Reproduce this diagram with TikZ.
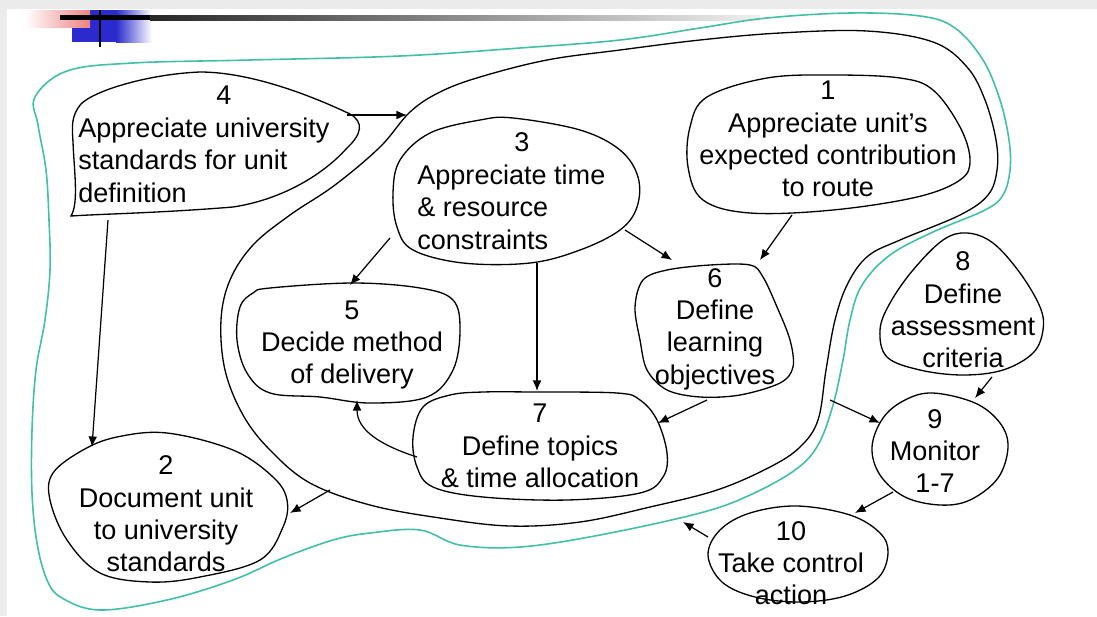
\documentclass[tikz,border=0pt]{standalone}
\usepackage{fontspec}
\setmainfont{Liberation Sans}
\usetikzlibrary{arrows.meta}
\definecolor{tealc}{RGB}{64,192,165}
\definecolor{logoblue}{RGB}{42,42,205}
\definecolor{logopink}{RGB}{238,130,130}
\begin{document}
\begin{tikzpicture}[x=0.02cm,y=-0.02cm,
  blob/.style={draw=black,line width=0.75pt},
  rim/.style={draw=tealc,line width=0.9pt},
  arr/.style={draw=black,line width=0.7pt,-{Latex[length=6pt,width=5pt]}},
  lbl/.style={font=\fontsize{15.4}{18.4}\selectfont,inner sep=0pt,align=center},
  lbll/.style={lbl,align=left,anchor=west}]
\useasboundingbox (0,0) rectangle (1097,616);
\fill[white] (0,0) rectangle (1097,616);

% slide frame and title decoration
\fill[black!8] (0,0) rectangle (1097,9);
\fill[black!8] (0,0) rectangle (7,616);
\fill[logoblue] (72,10) rectangle (116,42);
\shade[left color=logoblue,right color=white] (116,10) rectangle (152,42);
\shade[left color=white,right color=logopink] (25,10) rectangle (90,27);
\fill[black] (60,15) rectangle (150,20);
\shade[left color=black!85,right color=black!6] (150,15) rectangle (760,20);
\draw[line width=1.7pt] (100,10) -- (100,47);

% outer (teal) boundary
\draw[rim] plot[smooth cycle,tension=0.6] coordinates {
 (67,71) (133,63) (250,60) (400,56) (520,48) (620,40) (700,28) (767,18)
 (850,13) (920,16) (955,28) (983,60) (1000,100) (1009,140) (1010,170)
 (1003,195) (985,210) (933,232) (890,255) (862,285) (850,320) (843,360)
 (833,405) (818,445) (795,470) (750,495) (700,513) (600,535) (520,547)
 (460,545) (420,530) (370,533) (333,540) (283,558) (233,580) (167,600)
 (100,610) (62,598) (47,580) (37,543) (32,493) (32,430) (36,370) (45,320)
 (50,270) (49,220) (46,170) (38,125) (35,97)};

% inner (black) boundary
\draw[blob] plot[smooth cycle,tension=0.6] coordinates {
 (480,77) (547,60) (620,50) (700,40) (780,33) (867,31) (933,42) (967,67)
 (985,100) (996,140) (997,170) (988,195) (960,215) (900,240) (868,256)
 (848,283) (835,320) (826,370) (818,420) (800,447) (770,467) (717,490)
 (650,507) (580,522) (510,526) (440,518) (370,505) (310,483) (270,450)
 (243,415) (225,370) (221,320) (230,280) (253,245) (290,215) (335,185)
 (380,147) (410,112) (440,92)};

% blob 1
\draw[blob] plot[smooth cycle,tension=0.6] coordinates {
 (767,78) (833,75) (900,78) (933,90) (960,127) (970,160) (960,180) (917,197)
 (833,210) (750,213) (703,200) (688,167) (690,127) (707,97)};
\node[lbl] (t1) at (828,139) {1\\Appreciate unit’s\\expected contribution\\to route};

% blob 4 (sharp corner at the lower left)
\draw[blob] (71,216) .. controls (100,214) and (160,213) .. (233,207)
  .. controls (280,200) and (322,176) .. (347,148)
  .. controls (362,134) and (364,122) .. (350,114)
  .. controls (310,95) and (250,72) .. (200,72)
  .. controls (150,74) and (95,90) .. (81,104)
  .. controls (71,116) and (72,126) .. (73,142)
  .. controls (74,170) and (79,203) .. cycle;
\node[lbl] (n4) at (224,95) {4};
\node[lbll] (t4) at (78,160) {Appreciate university\\standards for unit\\definition};

% blob 3
\draw[blob] plot[smooth cycle,tension=0.6] coordinates {
 (513,118) (580,130) (620,150) (638,177) (637,207) (620,230) (580,250)
 (530,263) (463,263) (413,250) (397,227) (393,193) (400,160) (430,133) (480,120)};
\node[lbl] (n3) at (522,142) {3};
\node[lbll] (t3) at (417,207) {Appreciate time\\\& resource\\constraints};

% blob 5
\draw[blob] plot[smooth cycle,tension=0.6] coordinates {
 (270,288) (353,283) (420,288) (453,300) (460,330) (453,370) (427,397)
 (370,403) (320,397) (270,393) (247,373) (237,340) (240,307) (253,293)};
\node[lbl] (t5) at (352,345) {5\\Decide method\\of delivery};

% blob 6
\draw[blob] plot[smooth cycle,tension=0.55] coordinates {
 (710,265) (750,265) (763,277) (777,307) (790,340) (793,367) (780,383)
 (740,395) (700,397) (667,390) (647,370) (640,340) (635,307) (643,280) (667,270)};
\node[lbl] (t6) at (715,329) {6\\Define\\learning\\objectives};

% blob 7
\draw[blob] plot[smooth cycle,tension=0.6] coordinates {
 (533,392) (617,393) (640,400) (657,420) (667,453) (663,477) (640,493)
 (567,500) (483,497) (433,487) (417,467) (413,437) (423,407) (450,395) (483,392)};
\node[lbl] (t7) at (540,446) {7\\Define topics\\\& time allocation};

% blob 8
\draw[blob] plot[smooth cycle,tension=0.6] coordinates {
 (967,233) (993,243) (1020,273) (1040,307) (1043,330) (1033,353) (1003,370)
 (963,375) (920,370) (887,357) (880,330) (890,303) (913,270) (943,240)};
\node[lbl] (t8) at (963,310) {8\\Define\\assessment\\criteria};

% blob 9
\draw[blob] plot[smooth cycle,tension=0.6] coordinates {
 (933,393) (975,403) (1000,423) (1008,447) (998,478) (970,500) (940,505)
 (905,497) (880,475) (872,447) (883,418) (905,400)};
\node[lbl] (t9) at (935,451) {9\\Monitor\\1-7};

% blob 10
\draw[blob] plot[smooth cycle,tension=0.6] coordinates {
 (797,506) (850,515) (880,533) (888,553) (878,578) (845,596) (800,602)
 (755,597) (722,582) (708,555) (720,530) (750,513)};
\node[lbl] (t10) at (791,563) {10\\Take control\\action};

% blob 2
\draw[blob] plot[smooth cycle,tension=0.6] coordinates {
 (167,433) (233,450) (273,477) (287,500) (283,527) (260,560) (200,577)
 (150,582) (100,573) (67,540) (50,500) (53,473) (83,450) (117,437)};
\node[lbl] (t2) at (166,514) {2\\Document unit\\to university\\standards};

% connector end points
\coordinate (p4r) at (347,115);  \coordinate (pbt) at (407,115);
\coordinate (p4b) at (108,220);  \coordinate (p2t) at (92,447);
\coordinate (p3l) at (390,238);  \coordinate (p5t) at (350,285);
\coordinate (p3b) at (537,263);  \coordinate (p7t) at (537,391);
\coordinate (p3r) at (625,230);  \coordinate (p6l) at (672,260);
\coordinate (p1b) at (792,215);  \coordinate (p6t) at (760,260);
\coordinate (p6b) at (707,400);  \coordinate (p7r) at (658,423);
\coordinate (p7l) at (417,457);  \coordinate (p5b) at (357,400);
\coordinate (pbl) at (330,490);  \coordinate (p2r) at (290,513);
\coordinate (pbr) at (830,400);  \coordinate (p9l) at (880,423);
\coordinate (p8b) at (992,377);  \coordinate (p9t) at (975,398);
\coordinate (p9b) at (893,492);  \coordinate (p10t) at (855,513);
\coordinate (p10l) at (708,537); \coordinate (pbb) at (683,522);

% connectors
\draw[arr] (p4r) -- (pbt);
\draw[arr] (p4b) -- (p2t);
\draw[arr] (p3l) -- (p5t);
\draw[arr] (p3b) -- (p7t);
\draw[arr] (p3r) -- (p6l);
\draw[arr] (p1b) -- (p6t);
\draw[arr] (p6b) -- (p7r);
\draw[arr] (p7l) .. controls (380,445) and (357,430) .. (p5b);
\draw[arr] (pbl) -- (p2r);
\draw[arr] (pbr) -- (p9l);
\draw[arr] (p8b) -- (p9t);
\draw[arr] (p9b) -- (p10t);
\draw[arr] (p10l) -- (pbb);
\end{tikzpicture}
\end{document}
